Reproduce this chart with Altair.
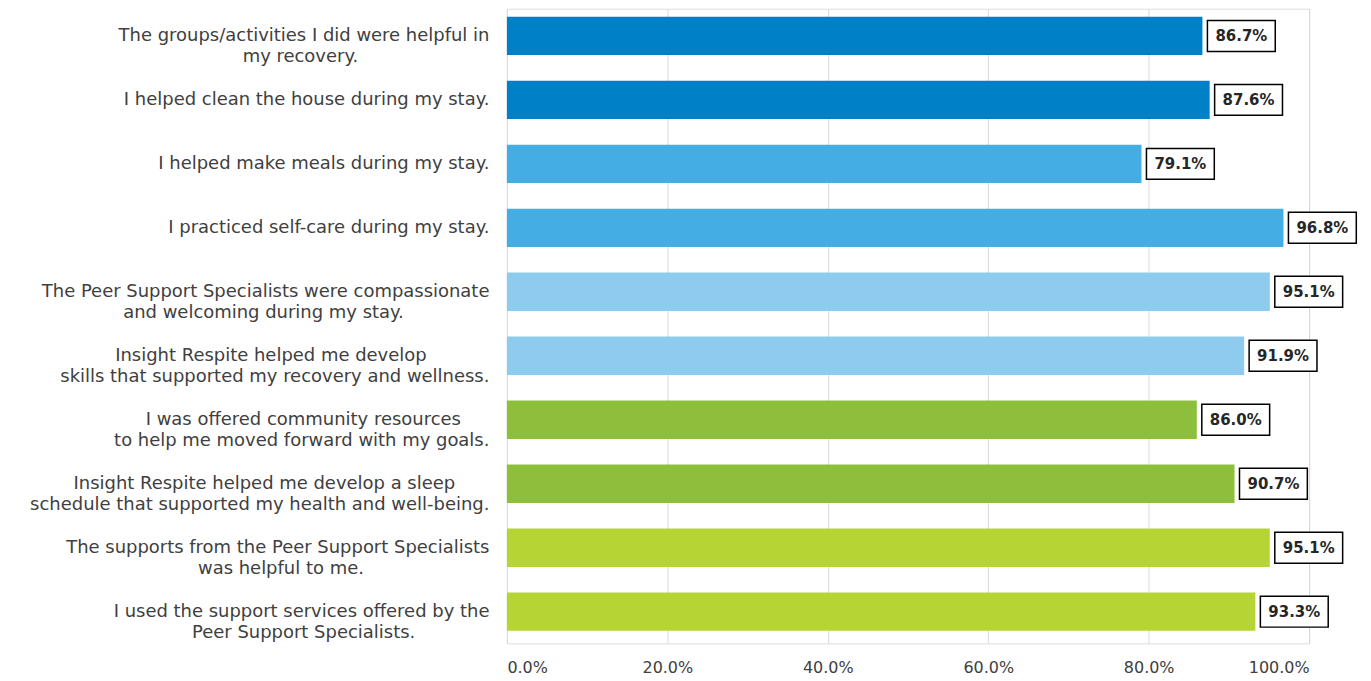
import altair as alt
import pandas as pd

statements = [
    ["The groups/activities I did were helpful in", "my recovery."],
    ["I helped clean the house during my stay."],
    ["I helped make meals during my stay."],
    ["I practiced self-care during my stay."],
    ["The Peer Support Specialists were compassionate", "and welcoming during my stay."],
    ["Insight Respite helped me develop", "skills that supported my recovery and wellness."],
    ["I was offered community resources", "to help me moved forward with my goals."],
    ["Insight Respite helped me develop a sleep", "schedule that supported my health and well-being."],
    ["The supports from the Peer Support Specialists", "was helpful to me."],
    ["I used the support services offered by the", "Peer Support Specialists."],
]
values = [86.7, 87.6, 79.1, 96.8, 95.1, 91.9, 86.0, 90.7, 95.1, 93.3]
groups = ["g1", "g1", "g2", "g2", "g3", "g3", "g4", "g4", "g5", "g5"]
group_colors = ["#0080C6", "#44ADE4", "#8ECBEE", "#8EBF3C", "#B6D534"]


def est_width(s):
    w = 0.0
    for ch in s:
        if ch in "iljIt.,:;'!|f/r- ":
            w += 0.33
        elif ch in "mwMW":
            w += 0.95
        else:
            w += 0.62
    return w


NBSP = "\u00a0"
ZWSP = "\u200b"


def center_lines(lines):
    if len(lines) == 1:
        return lines[0]
    widths = [est_width(l) for l in lines]
    wmax = max(widths)
    out = []
    for l, w in zip(lines, widths):
        n = int(round((wmax - w) / 2 / 0.318))
        out.append(l + (NBSP * n + ZWSP if n > 0 else ""))
    return "\n".join(out)


labels = [center_lines(s) for s in statements]

df = pd.DataFrame({"label": labels, "value": values, "group": groups})

FONT = "DejaVu Sans"

y_enc = alt.Y(
    "label:N",
    sort=None,
    title=None,
    scale=alt.Scale(paddingInner=0.4, paddingOuter=0.16, align=0.39),
    axis=alt.Axis(
        labelExpr="split(datum.label, '\\n')",
        labelLineHeight=21,
        labelFont=FONT,
        labelFontSize=18,
        labelColor="#404040",
        labelPadding=18,
        labelLimit=700,
        domain=False,
        ticks=False,
        grid=False,
    ),
)

x_enc = alt.X(
    "value:Q",
    title=None,
    scale=alt.Scale(domain=[0, 100]),
    axis=alt.Axis(
        values=[0, 20, 40, 60, 80, 100],
        labelExpr="format(datum.value, '.1f') + '%'",
        labelFont=FONT,
        labelFontSize=16,
        labelColor="#404040",
        labelPadding=16,
        domain=False,
        ticks=False,
        grid=True,
        gridColor="#D9D9D9",
        gridWidth=1,
    ),
)

base = alt.Chart(df)

bars = base.mark_bar().encode(
    x=x_enc,
    y=y_enc,
    color=alt.Color(
        "group:N",
        scale=alt.Scale(domain=["g1", "g2", "g3", "g4", "g5"], range=group_colors),
        legend=None,
    ),
)

boxes = base.mark_bar(
    size=31, fill="white", stroke="black", strokeWidth=1.5, xOffset=5, x2Offset=73
).encode(
    x="value:Q",
    x2="value:Q",
    y=alt.Y("label:N", sort=None),
)

texts = base.transform_calculate(
    txt="format(datum.value, '.1f') + '%'"
).mark_text(
    dx=39, align="center", baseline="middle", font=FONT,
    fontSize=15, fontWeight="bold", color="#262626"
).encode(
    x="value:Q",
    y=alt.Y("label:N", sort=None),
    text="txt:N",
)

chart = (
    alt.layer(bars, boxes, texts)
    .properties(width=804, height=636, padding={"top": 0, "left": 21, "right": 5, "bottom": 5})
    .configure_view(stroke=None)
    .configure(background="white")
)

chart.save("out.html", embed_options={"renderer": "svg", "actions": False})
